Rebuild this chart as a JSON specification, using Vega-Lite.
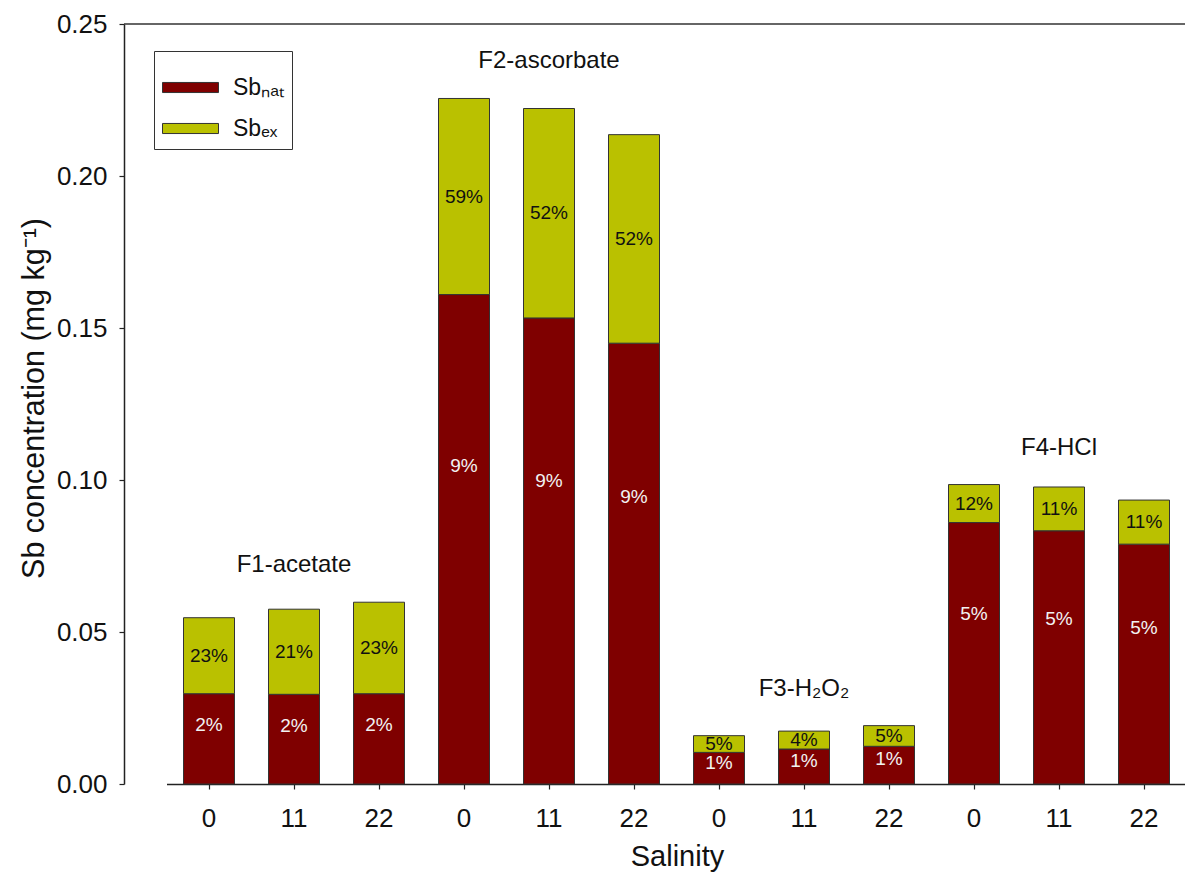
{
  "$schema": "https://vega.github.io/schema/vega-lite/v6.json",
  "width": 1061,
  "height": 760,
  "autosize": "none",
  "padding": {"left": 124, "top": 24, "right": 0, "bottom": 90},
  "config": {
    "font": "Liberation Sans",
    "view": {"stroke": null},
    "axis": {"labelFont": "Liberation Sans", "titleFont": "Liberation Sans", "titleFontWeight": "normal", "labelColor": "#111", "titleColor": "#111", "domainColor": "#222", "tickColor": "#222", "domainWidth": 1.5, "tickWidth": 1.2, "grid": false},
    "legend": {"labelFont": "Liberation Sans"}
  },
  "data": {
    "values": [
      {"bar": "F1-0", "fraction": "F1-acetate", "salinity": "0", "component": "nat", "value": 0.0297, "pct": "2%"},
      {"bar": "F1-0", "fraction": "F1-acetate", "salinity": "0", "component": "ex", "value": 0.0250, "pct": "23%"},
      {"bar": "F1-11", "fraction": "F1-acetate", "salinity": "11", "component": "nat", "value": 0.0295, "pct": "2%"},
      {"bar": "F1-11", "fraction": "F1-acetate", "salinity": "11", "component": "ex", "value": 0.0280, "pct": "21%"},
      {"bar": "F1-22", "fraction": "F1-acetate", "salinity": "22", "component": "nat", "value": 0.0297, "pct": "2%"},
      {"bar": "F1-22", "fraction": "F1-acetate", "salinity": "22", "component": "ex", "value": 0.0301, "pct": "23%"},
      {"bar": "F2-0", "fraction": "F2-ascorbate", "salinity": "0", "component": "nat", "value": 0.1610, "pct": "9%"},
      {"bar": "F2-0", "fraction": "F2-ascorbate", "salinity": "0", "component": "ex", "value": 0.0645, "pct": "59%"},
      {"bar": "F2-11", "fraction": "F2-ascorbate", "salinity": "11", "component": "nat", "value": 0.1533, "pct": "9%"},
      {"bar": "F2-11", "fraction": "F2-ascorbate", "salinity": "11", "component": "ex", "value": 0.0689, "pct": "52%"},
      {"bar": "F2-22", "fraction": "F2-ascorbate", "salinity": "22", "component": "nat", "value": 0.1450, "pct": "9%"},
      {"bar": "F2-22", "fraction": "F2-ascorbate", "salinity": "22", "component": "ex", "value": 0.0686, "pct": "52%"},
      {"bar": "F3-0", "fraction": "F3-H₂O₂", "salinity": "0", "component": "nat", "value": 0.0104, "pct": "1%"},
      {"bar": "F3-0", "fraction": "F3-H₂O₂", "salinity": "0", "component": "ex", "value": 0.0055, "pct": "5%"},
      {"bar": "F3-11", "fraction": "F3-H₂O₂", "salinity": "11", "component": "nat", "value": 0.0115, "pct": "1%"},
      {"bar": "F3-11", "fraction": "F3-H₂O₂", "salinity": "11", "component": "ex", "value": 0.0059, "pct": "4%"},
      {"bar": "F3-22", "fraction": "F3-H₂O₂", "salinity": "22", "component": "nat", "value": 0.0124, "pct": "1%"},
      {"bar": "F3-22", "fraction": "F3-H₂O₂", "salinity": "22", "component": "ex", "value": 0.0068, "pct": "5%"},
      {"bar": "F4-0", "fraction": "F4-HCl", "salinity": "0", "component": "nat", "value": 0.0860, "pct": "5%"},
      {"bar": "F4-0", "fraction": "F4-HCl", "salinity": "0", "component": "ex", "value": 0.0125, "pct": "12%"},
      {"bar": "F4-11", "fraction": "F4-HCl", "salinity": "11", "component": "nat", "value": 0.0833, "pct": "5%"},
      {"bar": "F4-11", "fraction": "F4-HCl", "salinity": "11", "component": "ex", "value": 0.0144, "pct": "11%"},
      {"bar": "F4-22", "fraction": "F4-HCl", "salinity": "22", "component": "nat", "value": 0.0789, "pct": "5%"},
      {"bar": "F4-22", "fraction": "F4-HCl", "salinity": "22", "component": "ex", "value": 0.0145, "pct": "11%"}
    ]
  },
  "layer": [
    {
      "mark": {"type": "bar", "stroke": "#333", "strokeWidth": 1},
      "encoding": {
        "x": {
          "field": "bar", "type": "nominal",
          "scale": {"domain": ["F1-0","F1-11","F1-22","F2-0","F2-11","F2-22","F3-0","F3-11","F3-22","F4-0","F4-11","F4-22"], "range": [42.5, 1062.5], "paddingInner": 0.4, "paddingOuter": 0.2},
          "sort": null,
          "axis": {"title": "Salinity", "labelExpr": "split(datum.value, '-')[1]", "labelAngle": 0, "labelFontSize": 26, "labelBaseline": "alphabetic", "tickSize": 5, "labelPadding": 37, "titleFontSize": 29, "titleX": 553, "titleY": 81, "titleBaseline": "alphabetic", "titleAlign": "center"}
        },
        "y": {
          "field": "value", "type": "quantitative", "stack": "zero",
          "scale": {"domain": [0, 0.25], "nice": false, "zero": true},
          "axis": {"title": "Sb concentration (mg kg⁻¹)", "values": [0, 0.05, 0.1, 0.15, 0.2, 0.25], "format": ".2f", "labelFontSize": 26, "tickSize": 5, "labelPadding": 12, "titleFontSize": 30.5, "titleX": -81, "titleY": 374, "titleBaseline": "alphabetic", "titleAlign": "center", "titleAngle": -90}
        },
        "color": {
          "field": "component", "type": "nominal",
          "scale": {"domain": ["nat", "ex"], "range": ["#7f0000", "#bac100"]},
          "legend": {"title": null, "orient": "none", "legendX": 30, "legendY": 27, "labelExpr": "datum.value == 'nat' ? 'Sbₙₐₜ' : 'Sbₑₓ'", "labelFontSize": 23, "labelColor": "#111", "symbolType": "M-1,-0.18H1V0.18H-1Z", "symbolSize": 3136, "symbolStrokeColor": "#333", "symbolStrokeWidth": 1, "symbolOpacity": 1, "labelOffset": 14, "padding": 8, "rowPadding": -3, "strokeColor": "#333", "fillColor": "white"}
        },
        "order": {"field": "component", "sort": "descending"}
      }
    },
    {
      "transform": [
        {"stack": "value", "groupby": ["bar"], "sort": [{"field": "component", "order": "descending"}], "as": ["v0", "v1"]},
        {"calculate": "datum.component == 'nat' ? 0.65 * datum.value : (datum.v0 + datum.v1) / 2", "as": "labelAt"}
      ],
      "mark": {"type": "text", "fontSize": 19, "baseline": "middle", "align": "center"},
      "encoding": {
        "x": {"field": "bar", "type": "nominal", "sort": null},
        "y": {"field": "labelAt", "type": "quantitative"},
        "text": {"field": "pct"},
        "color": {"condition": {"test": "datum.component == 'nat'", "value": "#f2f2f2"}, "value": "#111"}
      }
    },
    {
      "transform": [
        {"joinaggregate": [{"op": "sum", "field": "value", "as": "total"}], "groupby": ["bar"]},
        {"joinaggregate": [{"op": "max", "field": "total", "as": "grouptop"}], "groupby": ["fraction"]},
        {"filter": "datum.salinity == '11' && datum.component == 'nat'"}
      ],
      "mark": {"type": "text", "fontSize": 24, "baseline": "middle", "align": "center", "dy": -37, "color": "#111"},
      "encoding": {
        "x": {"field": "bar", "type": "nominal", "sort": null},
        "y": {"field": "grouptop", "type": "quantitative"},
        "text": {"field": "fraction"}
      }
    },
    {
      "data": {"values": [{"edge": 0.25}]},
      "mark": {"type": "rule", "color": "#333", "strokeWidth": 1.5},
      "encoding": {"y": {"field": "edge", "type": "quantitative"}}
    }
  ]
}
